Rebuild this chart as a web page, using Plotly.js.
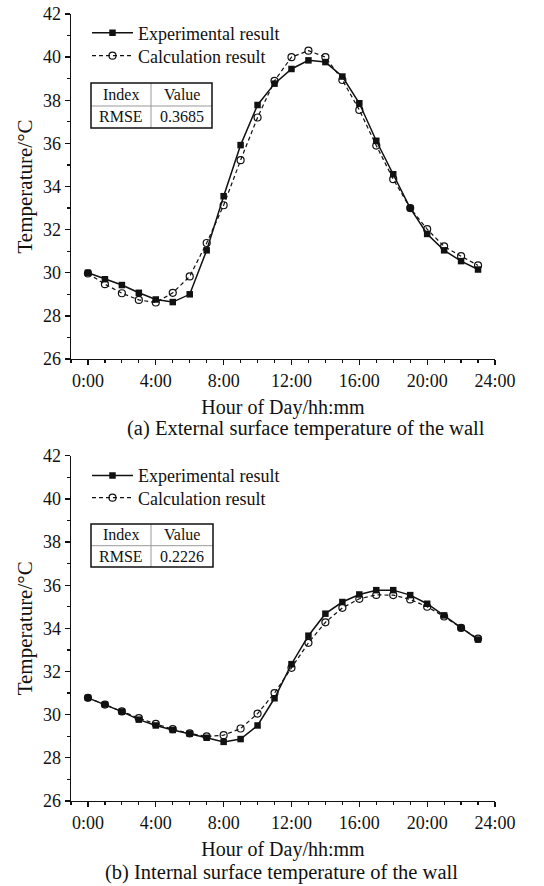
<!DOCTYPE html>
<html>
<head>
<meta charset="utf-8">
<script src="https://cdn.plot.ly/plotly-3.0.1.min.js"></script>
<style>html,body{margin:0;padding:0;background:#fff;}#chart{width:544px;height:886px;}</style>
</head>
<body>
<div id="chart"></div>
<script>
// ---------- data ----------
const hours = [0,1,2,3,4,5,6,7,8,9,10,11,12,13,14,15,16,17,18,19,20,21,22,23];

const extExperimental = [30.0,29.7,29.43,29.07,28.76,28.64,29.0,31.04,33.55,35.92,37.78,38.77,39.45,39.85,39.77,39.1,37.86,36.12,34.57,33.0,31.8,31.04,30.54,30.15];
const extCalculation  = [29.97,29.47,29.05,28.74,28.62,29.07,29.83,31.38,33.13,35.22,37.2,38.9,40.0,40.3,40.0,38.94,37.55,35.9,34.34,33.0,32.02,31.22,30.77,30.34];

const intExperimental = [30.78,30.47,30.14,29.77,29.5,29.29,29.12,28.93,28.74,28.87,29.5,30.76,32.34,33.66,34.68,35.22,35.57,35.77,35.77,35.54,35.14,34.6,34.02,33.48];
const intCalculation  = [30.78,30.47,30.15,29.84,29.57,29.33,29.13,28.99,29.05,29.36,30.05,31.0,32.17,33.33,34.28,34.95,35.37,35.55,35.54,35.34,35.0,34.55,34.02,33.52];

const seriesNames = ["Experimental result", "Calculation result"];
const xTickVals = [0,4,8,12,16,20,24];
const xTickText = ["0:00","4:00","8:00","12:00","16:00","20:00","24:00"];
const tableHeader = ["Index", "Value"];
const tableRowTop = ["RMSE", "0.3685"];
const tableRowBottom = ["RMSE", "0.2226"];
const captions = ["(a) External surface temperature of the wall", "(b) Internal surface temperature of the wall"];
const xTitle = "Hour of Day/hh:mm";
const yTitle = "Temperature/°C";

// ---------- layout helpers ----------
const W = 544, H = 886;
const M = {l:71, r:49, t:14, b:85};
const PW = W - M.l - M.r, PH = H - M.t - M.b;
const px = x => (x - M.l) / PW;
const py = y => (H - M.b - y) / PH;
const FONT = "Liberation Serif, Times New Roman, serif";

function expTrace(x, y, xa, ya, legend) {
  return {x, y, xaxis:xa, yaxis:ya, legend, name:seriesNames[0], type:"scatter", mode:"lines+markers",
    line:{color:"#111", width:1.5}, marker:{symbol:"square", size:6.5, color:"#111"}};
}
function calcTrace(x, y, xa, ya, legend) {
  return {x, y, xaxis:xa, yaxis:ya, legend, name:seriesNames[1], type:"scatter", mode:"lines+markers",
    line:{color:"#111", width:1.2, dash:"4px,3px"},
    marker:{symbol:"circle-open", size:7, color:"#111", line:{width:1.2, color:"#111"}}};
}

const traces = [
  expTrace(hours, extExperimental, "x", "y", "legend"),
  calcTrace(hours, extCalculation, "x", "y", "legend2"),
  expTrace(hours, intExperimental, "x2", "y2", "legend3"),
  calcTrace(hours, intCalculation, "x2", "y2", "legend4")
];

function xAxis(anchor) {
  return {anchor, domain:[0,1], range:[-1,24], showgrid:false, zeroline:false,
    showline:true, linecolor:"#111", linewidth:1.3, ticks:"outside", ticklen:5, tickwidth:1.3, tickcolor:"#111",
    tickvals:xTickVals, ticktext:xTickText, tickfont:{family:FONT, size:18, color:"#111"},
    minor:{dtick:1, tick0:0, ticks:"outside", ticklen:3, tickwidth:1.2, tickcolor:"#111"},
    title:{text:xTitle, font:{family:FONT, size:20, color:"#111"}, standoff:10}};
}
function yAxis(anchor, domain) {
  return {anchor, domain, range:[26,42], showgrid:false, zeroline:false,
    showline:true, linecolor:"#111", linewidth:1.3, ticks:"outside", ticklen:5, tickwidth:1.3, tickcolor:"#111",
    dtick:2, tick0:26, tickfont:{family:FONT, size:18, color:"#111"},
    minor:{dtick:1, ticks:"outside", ticklen:3, tickwidth:1.2, tickcolor:"#111"},
    title:{text:yTitle, font:{family:FONT, size:21, color:"#111"}, standoff:4}};
}

function tableShapes(x0, x1, y0, y1, ymid, xdiv) {
  return [
    {type:"line", xref:"paper", yref:"paper", x0:px(x0), x1:px(x1), y0:py(ymid), y1:py(ymid), line:{color:"#999", width:1}},
    {type:"line", xref:"paper", yref:"paper", x0:px(xdiv), x1:px(xdiv), y0:py(y0), y1:py(y1), line:{color:"#999", width:1}},
    {type:"rect", xref:"paper", yref:"paper", x0:px(x0), x1:px(x1), y0:py(y0), y1:py(y1), line:{color:"#111", width:1.5}}
  ];
}
function tableText(x0, x1, y0, y1, ymid, xdiv, row) {
  const c1 = (x0 + xdiv) / 2, c2 = (xdiv + x1) / 2;
  const r1 = (y0 + ymid) / 2, r2 = (ymid + y1) / 2;
  const f = {family:FONT, size:16, color:"#111"};
  const mk = (t, x, y) => ({text:t, xref:"paper", yref:"paper", x:px(x), y:py(y), xanchor:"center", yanchor:"middle", showarrow:false, font:f});
  return [mk(tableHeader[0], c1, r1), mk(tableHeader[1], c2, r1), mk(row[0], c1, r2), mk(row[1], c2, r2)];
}

function legendAt(rowY) {
  return {x:px(87), y:py(rowY - 19.5), xanchor:"left", yanchor:"top", bgcolor:"rgba(0,0,0,0)", borderwidth:0,
    font:{family:FONT, size:18, color:"#111"}, itemwidth:41};
}

const capFont = {family:FONT, size:20.5, color:"#111"};
const layout = {
  width:W, height:H, margin:M, paper_bgcolor:"#fff", plot_bgcolor:"#fff",
  font:{family:FONT, color:"#111"},
  xaxis:xAxis("y"), yaxis:yAxis("x", [py(359), 1]),
  xaxis2:xAxis("y2"), yaxis2:yAxis("x2", [0, py(455.7)]),
  legend:legendAt(34), legend2:legendAt(57), legend3:legendAt(476.7), legend4:legendAt(499),
  shapes:[...tableShapes(91, 212, 83, 128, 106, 151), ...tableShapes(91, 213, 524, 567, 545.7, 151)],
  annotations:[
    ...tableText(91, 212, 83, 128, 106, 151, tableRowTop),
    ...tableText(91, 213, 524, 567, 545.7, 151, tableRowBottom),
    {text:captions[0], xref:"paper", yref:"paper", x:px(306), y:py(428), xanchor:"center", yanchor:"middle", showarrow:false, font:capFont},
    {text:captions[1], xref:"paper", yref:"paper", x:px(281), y:py(872), xanchor:"center", yanchor:"middle", showarrow:false, font:capFont}
  ],
  showlegend:true
};

Plotly.newPlot("chart", traces, layout, {staticPlot:true, displayModeBar:false});
</script>
</body>
</html>
